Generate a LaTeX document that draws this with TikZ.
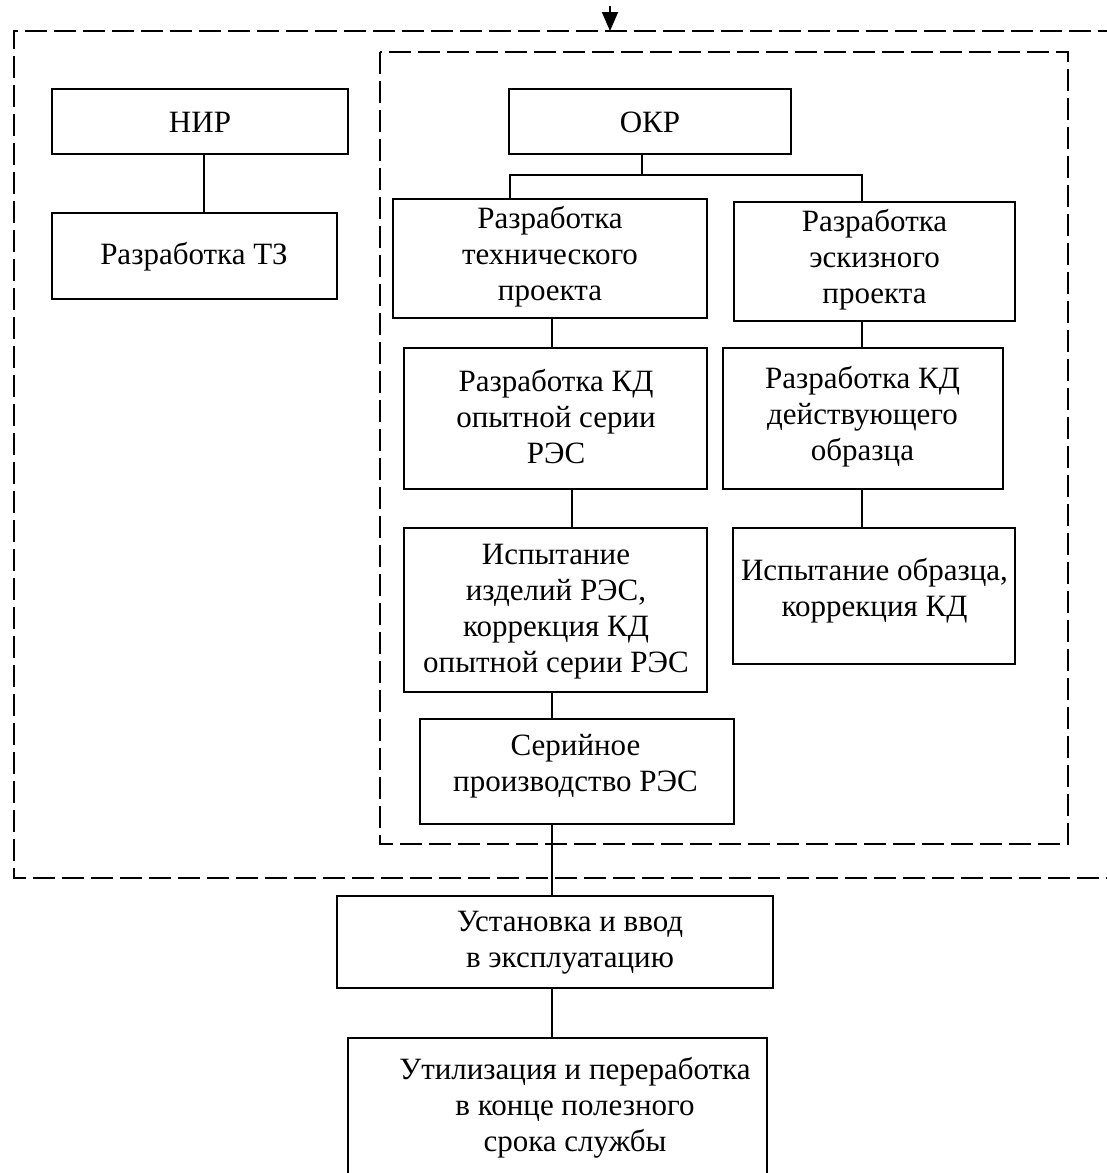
\documentclass[tikz,border=0pt]{standalone}
\usepackage{fontspec}
\setmainfont{Liberation Serif}
\usetikzlibrary{arrows.meta,calc}
\begin{document}
\begin{tikzpicture}[x=1pt,y=-1pt,
  box/.style={draw=black,line width=1.8pt,rectangle,inner sep=0pt},
  txt/.style={inner sep=0pt,align=center,font=\fontsize{31}{36}\selectfont},
  frame/.style={line width=1.8pt,dash pattern=on 22pt off 7pt},
  link/.style={line width=1.8pt}]
\useasboundingbox (0,0) rectangle (1107,1173);
\clip (0,0) rectangle (1107,1173);
% frames
\draw[frame] (1120,31) -- (14,31) -- (14,878) -- (1120,878);
\draw[frame] (380,52) rectangle (1068,844);
% top arrow
\coordinate (atop) at (610,6);
\coordinate (abot) at (610,31);
\draw[link,-{Triangle[width=16pt,length=19pt]}] (atop) -- (abot);
% boxes: centre and size
\node[box,minimum width=296pt,minimum height=65pt] (nir) at (200,121.5) {};
\node[box,minimum width=285pt,minimum height=86pt] (tz) at (194.5,256) {};
\node[box,minimum width=282pt,minimum height=65pt] (okr) at (650,121.5) {};
\node[box,minimum width=314pt,minimum height=119pt] (tech) at (550,258.5) {};
\node[box,minimum width=281pt,minimum height=119pt] (esk) at (874.5,261.5) {};
\node[box,minimum width=303pt,minimum height=141pt] (kdop) at (555.5,418.5) {};
\node[box,minimum width=280pt,minimum height=141pt] (kdd) at (863,418.5) {};
\node[box,minimum width=303pt,minimum height=164pt] (isp) at (555.5,610) {};
\node[box,minimum width=282pt,minimum height=136pt] (ispo) at (874,596) {};
\node[box,minimum width=314pt,minimum height=105pt] (ser) at (577,771.5) {};
\node[box,minimum width=436pt,minimum height=92pt] (ust) at (555,942) {};
\node[box,minimum width=419pt,minimum height=150pt] (util) at (557.5,1113) {};
% texts
\node[txt] (nirT) at (200,122) {НИР};
\node[txt] (tzT) at (194,257) {Разработка ТЗ};
\node[txt] (okrT) at (650,122) {ОКР};
\node[txt] (techT) at (550,257) {Разработка\\технического\\проекта};
\node[txt] (eskT) at (874.5,260) {Разработка\\эскизного\\проекта};
\node[txt] (kdopT) at (556,417) {Разработка КД\\опытной серии\\РЭС};
\node[txt] (kddT) at (862.5,417) {Разработка КД\\действующего\\образца};
\node[txt] (ispT) at (556,612) {Испытание\\изделий РЭС,\\коррекция КД\\опытной серии РЭС};
\node[txt] (ispoT) at (874.5,591) {Испытание образца,\\коррекция КД};
\node[txt] (serT) at (575.5,766) {Серийное\\производство РЭС};
\node[txt] (ustT) at (570,943) {Установка и ввод\\в эксплуатацию};
\node[txt] (utilT) at (575,1108) {Утилизация и переработка\\в конце полезного\\срока службы};
% connector coordinates
\coordinate (xa) at (204,0);
\coordinate (brL) at (510,175);
\coordinate (brM) at (642,175);
\coordinate (brR) at (862,175);
\coordinate (xb) at (552,0);
\coordinate (xc) at (572,0);
% connectors
\draw[link] (xa |- nir.south) -- (xa |- tz.north);
\draw[link] (brM |- okr.south) -- (brM);
\draw[link] (brL |- tech.north) -- (brL) -- (brR) -- (brR |- esk.north);
\draw[link] (xb |- tech.south) -- (xb |- kdop.north);
\draw[link] (xc |- kdop.south) -- (xc |- isp.north);
\draw[link] (xb |- isp.south) -- (xb |- ser.north);
\draw[link] (xb |- ser.south) -- (xb |- ust.north);
\draw[link] (xb |- ust.south) -- (xb |- util.north);
\draw[link] (brR |- esk.south) -- (brR |- kdd.north);
\draw[link] (brR |- kdd.south) -- (brR |- ispo.north);
\end{tikzpicture}
\end{document}
